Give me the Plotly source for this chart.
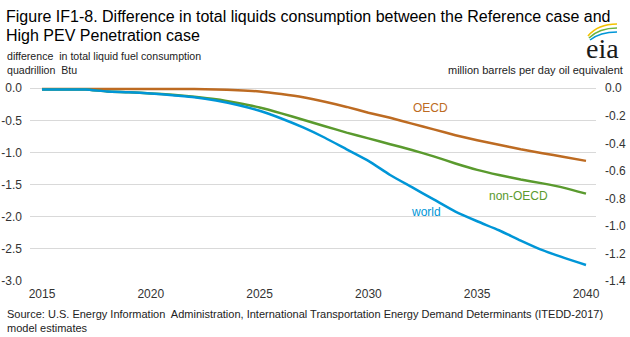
import plotly.graph_objects as go

years = list(range(2015, 2041))
world = [-0.02, -0.02, -0.02, -0.05, -0.06, -0.08, -0.11, -0.14, -0.19, -0.26,
         -0.35, -0.47, -0.61, -0.77, -0.95, -1.13, -1.35, -1.54, -1.73, -1.92,
         -2.07, -2.21, -2.37, -2.52, -2.64, -2.75]
non_oecd = [-0.02, -0.02, -0.02, -0.05, -0.06, -0.08, -0.10, -0.13, -0.17, -0.23,
            -0.30, -0.39, -0.49, -0.59, -0.69, -0.78, -0.87, -0.96, -1.06, -1.17,
            -1.27, -1.35, -1.42, -1.48, -1.55, -1.64]
oecd = [-0.01, -0.01, -0.01, -0.01, -0.01, -0.01, -0.01, -0.01, -0.02, -0.03,
        -0.05, -0.09, -0.14, -0.21, -0.29, -0.38, -0.46, -0.55, -0.64, -0.73,
        -0.81, -0.88, -0.95, -1.01, -1.07, -1.13]

left_ticks = [0.0, -0.5, -1.0, -1.5, -2.0, -2.5, -3.0]
right_ticks = [0.0, -0.2, -0.4, -0.6, -0.8, -1.0, -1.2, -1.4]
x_ticks = [2015, 2020, 2025, 2030, 2035, 2040]

BLUE = "#0096d7"
BROWN = "#bd6b22"
GREEN = "#5a9a2e"
FONT = "Liberation Sans, Arial, sans-serif"

fig = go.Figure()
for name, vals, col in [("OECD", oecd, BROWN), ("non-OECD", non_oecd, GREEN), ("world", world, BLUE)]:
    fig.add_trace(go.Scatter(x=years, y=vals, mode="lines", name=name,
                             line=dict(color=col, width=2.5, shape="spline", smoothing=0.6),
                             hoverinfo="skip"))
# invisible trace on the right axis
fig.add_trace(go.Scatter(x=[years[0]], y=[0], yaxis="y2", mode="lines",
                         line=dict(width=0), showlegend=False, hoverinfo="skip"))

top_pad = 0.02
fig.update_layout(
    width=630, height=337,
    margin=dict(l=30, r=34, t=87, b=56, autoexpand=False),
    paper_bgcolor="white", plot_bgcolor="white",
    showlegend=False,
    font=dict(family=FONT, size=12, color="#333333"),
    xaxis=dict(range=[2014.45, 2040.46], tickvals=x_ticks, ticktext=[str(t) for t in x_ticks],
               showgrid=False, zeroline=False, showline=False, ticks="", automargin=False,
               ticklabelstandoff=4, tickfont=dict(size=12, color="#333333")),
    yaxis=dict(range=[-3.0, top_pad], tickvals=left_ticks,
               ticktext=[f"{v:.1f}" for v in left_ticks], automargin=False,
               showgrid=True, gridcolor="#d9d9d9", gridwidth=1, zeroline=False,
               showline=False, ticks="", ticklabelstandoff=7,
               tickfont=dict(size=12, color="#333333")),
    yaxis2=dict(range=[-1.4, top_pad * 1.4 / 3.0], overlaying="y", side="right",
                tickvals=right_ticks, ticktext=[f"{v:.1f}" for v in right_ticks],
                showgrid=False, zeroline=False, showline=False, ticks="", automargin=False,
                ticklabelstandoff=8, tickfont=dict(size=12, color="#333333")),
)

def ann(text, x, y, size, color="#333333", xanchor="left", yanchor="middle", family=FONT):
    fig.add_annotation(text=text, x=x, y=y, xref="paper", yref="paper",
                       xanchor=xanchor, yanchor=yanchor, showarrow=False,
                       font=dict(size=size, color=color, family=family))

W, H, L, T = 566.0, 194.0, 30.0, 87.0
def px(x):
    return (x - L) / W
def py(y):
    return (T + H - y) / H

ann("Figure IF1-8. Difference in total liquids consumption between the Reference case and",
    px(4), py(16), 16, "#000000")
ann("High PEV Penetration case", px(4), py(35), 16, "#000000")
ann("difference  in total liquid fuel consumption", px(5), py(56), 10.6, "#222222")
ann("quadrillion  Btu", px(5), py(70), 10.6, "#222222")
ann("million barrels per day oil equivalent", px(625), py(70), 11, "#222222", xanchor="right")
ann("Source: U.S. Energy Information  Administration, International Transportation Energy Demand Determinants (ITEDD-2017)",
    px(5), py(314), 11, "#222222")
ann("model estimates", px(5), py(328), 11, "#222222")

ann("OECD", px(411), py(108), 12, BROWN)
ann("non-OECD", px(487), py(196), 12, GREEN)
ann("world", px(409), py(212), 12, BLUE)

# EIA logo
ann("eia", px(602), py(48), 28, "#1a1a1a", xanchor="center", family="Liberation Serif, serif")
def arc(x0, y0, cx, cy, x1, y1, color, w):
    fig.add_shape(type="path", xref="paper", yref="paper",
                  path=f"M {px(x0)},{py(y0)} Q {px(cx)},{py(cy)} {px(x1)},{py(y1)}",
                  line=dict(color=color, width=w))
arc(588, 36, 598, 24, 617, 24, "#f2c200", 1.6)
arc(589, 38, 599, 28, 617, 28, "#6cb33f", 1.6)
arc(590, 40, 600, 32, 617, 32, "#0096d7", 1.6)

fig.write_html("out.html")
